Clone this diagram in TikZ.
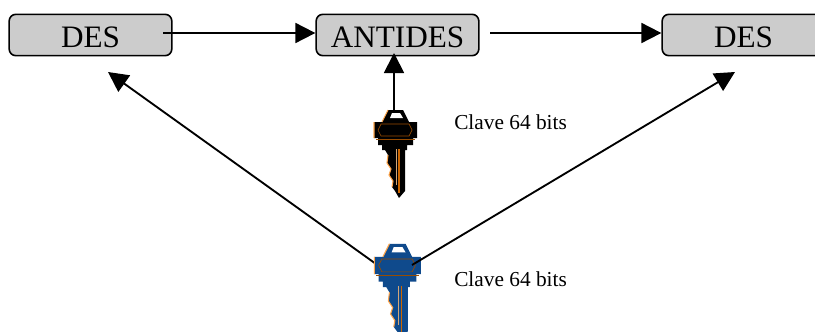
\documentclass[tikz,border=0pt]{standalone}
\usepackage{fontspec}
\setmainfont{Liberation Serif}
\usetikzlibrary{arrows.meta}
\definecolor{azulllave}{HTML}{0F4A8C}
\tikzstyle{desbox}=[
      rectangle,
      draw=black,
      line width=1.2pt,
      rounded corners=5pt,
      fill=black!20,
      minimum height=31pt,
      minimum width=122pt,
      inner sep=0pt,
      text height=18pt,
      text depth=0pt,
      font=\fontsize{23.4}{24}\selectfont
      ]
\tikzstyle{flecha}=[
      line width=1.4pt,
      -{Triangle[length=15pt,width=15pt]}
      ]
\tikzstyle{clavetext}=[
      anchor=west,
      inner sep=0pt,
      font=\fontsize{16}{16}\selectfont
      ]
\tikzset{
  llave/.pic={
    % cuerpo
    \fill[#1] (-7,-15) -- (8,-15) -- (14,-3) -- (22,-3) -- (22,13)
      -- (18,13) -- (18,20) -- (12,20) -- (12,25) -- (10,25)
      -- (10,66) -- (4,73) -- (0,66) -- (-3,62) -- (-2,56) -- (-6,50) -- (-4,44) -- (-8,38)
      -- (-7,30) -- (-10,25) -- (-13,25) -- (-13,20) -- (-17,20) -- (-17,13) -- (-21,13)
      -- (-21,-3) -- (-13,-3) -- cycle;
    \fill[white] (-3,-12) -- (5,-12) -- (8,-7) -- (-5,-7) -- cycle;
    % filetes
    \draw[orange!60!black,line width=.5pt] (-17,5) -- (-14,-1) -- (14,-1) -- (17,5) -- (14,11) -- (-14,11) -- cycle;
    \draw[orange!60!black,line width=.6pt] (-19,14) -- (20,14);
    \draw[orange!70,line width=.8pt] (-21,-3) -- (-21,13) (-7,-15) -- (-13,-3) (-7,30) -- (-8,38) -- (-4,44) -- (-6,50) -- (-2,56) -- (-3,62);
    \draw[orange!80!black,line width=.9pt] (4,24) -- (4,68);
    \draw[brown!70,line width=.7pt] (1,24) -- (1,60);
  }
}
\begin{document}
\begin{tikzpicture}[x=0.75pt,y=-0.75pt]
\useasboundingbox (0,0) rectangle (815,332);
\clip (0,0) rectangle (815,332);

\node [desbox] (desa) at (90.5,35) {DES};
\node [desbox] (antides) at (397.5,35) {ANTIDES};
\node [desbox] (desb) at (743.5,35) {DES};

\coordinate (negro) at (394,112);
\coordinate (puntaanti) at (394,53);
\coordinate (azulizq) at (390,274);
\coordinate (azulder) at (412,265);
\coordinate (salea) at (163,33);
\coordinate (saleb) at (490,33);
\coordinate (llegaa) at (108,72);
\coordinate (llegab) at (735,72);

\draw [flecha] (azulizq) -- (llegaa);

\pic at (395,125) {llave=black};
\pic [scale=1.08] at (397,260) {llave=azulllave};

\draw [flecha] (salea) -- (antides.west |- salea);
\draw [flecha] (saleb) -- (desb.west |- saleb);
\draw [flecha] (negro) -- (puntaanti);
\draw [flecha] (azulder) -- (llegab);

\node [clavetext] (clavenegra) at (454,122) {Clave 64 bits};
\node [clavetext] (claveazul) at (454,279) {Clave 64 bits};
\end{tikzpicture}
\end{document}
